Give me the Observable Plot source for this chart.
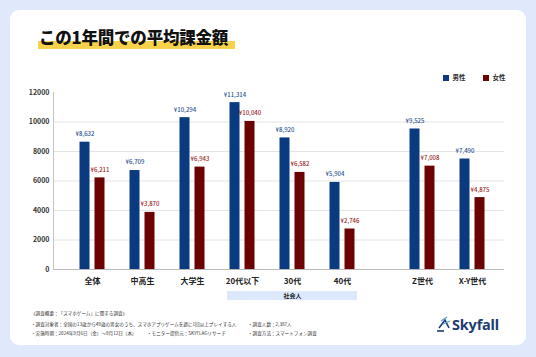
<!DOCTYPE html>
<html><head><meta charset="utf-8">
<script src="https://cdn.jsdelivr.net/npm/d3@7"></script>
<script src="https://cdn.jsdelivr.net/npm/@observablehq/plot@0.6"></script>
<style>
body{margin:0;width:536px;height:357px;background:#dfe9fb;position:relative;overflow:hidden;font-family:"Noto Sans CJK JP","Noto Sans",sans-serif;}
#card{position:absolute;left:10px;top:10px;width:516px;height:335px;background:#fff;border-radius:9px;}
#hl{position:absolute;left:38px;top:41px;width:197px;height:8px;background:#f8d24a;}
#title{position:absolute;left:39px;top:29px;font-size:16.5px;line-height:16.5px;font-weight:900;color:#111;white-space:nowrap;letter-spacing:-0.2px;}
.leg{position:absolute;top:74px;font-size:6.5px;line-height:7px;font-weight:700;color:#333;white-space:nowrap;}
.sw{display:inline-block;width:5.5px;height:5.5px;vertical-align:-0.5px;margin-right:4px;}
.chart{position:absolute;top:72px;}
.foot{position:absolute;font-size:4.6px;line-height:5px;color:#333;white-space:nowrap;}
#logo{position:absolute;left:436px;top:315px;height:18px;white-space:nowrap;}
#logo span{position:absolute;left:16px;top:-1px;font-family:"Noto Sans","Open Sans",sans-serif;font-weight:700;font-size:14.5px;line-height:20px;color:#1b3c72;letter-spacing:-0.2px;}
</style></head>
<body>
<div id="card"></div>
<div id="hl"></div>
<div id="title">この1年間での平均課金額</div>
<div class="leg" id="leg1" style="left:443px"></div>
<div class="leg" id="leg2" style="left:483px"></div>
<div class="chart" id="c1" style="left:0px"></div>
<div class="chart" id="c2" style="left:380px"></div>
<div class="foot" style="left:31px;top:311px">《調査概要：「スマホゲーム」に関する調査》</div>
<div class="foot" style="left:31px;top:322px">・調査対象者：全国の13歳から49歳の男女のうち、スマホアプリゲームを週に1回以上プレイする人</div>
<div class="foot" style="left:248px;top:322px">・調査人数：2,387人</div>
<div class="foot" style="left:31px;top:331px">・実施時期：2024年9月6日（金）〜9月12日（木）</div>
<div class="foot" style="left:147px;top:331px">・モニター提供元：SKYFLAGリサーチ</div>
<div class="foot" style="left:248px;top:331px">・調査方法：スマートフォン調査</div>
<div id="logo">
<svg width="16" height="18" viewBox="0 0 16 18" style="position:absolute;left:0;top:0">
<path d="M1 16 H8" stroke="#1b3c72" stroke-width="1.6" fill="none"/>
<path d="M3 13 L9 5 L13 13" stroke="#1b3c72" stroke-width="1.6" fill="none"/>
<path d="M5 6 L11 2" stroke="#5aa0dc" stroke-width="1.4" fill="none"/>
<path d="M7 9 L14 6" stroke="#5aa0dc" stroke-width="1.2" fill="none"/>
</svg>
<span>Skyfall</span>
</div>
<script>
// ---- data ----
const groupsA = ["全体", "中高生", "大学生", "20代以下", "30代", "40代"];
const groupsB = ["Z世代", "X-Y世代"];
const male = [8632, 6709, 10294, 11314, 8920, 5904, 9525, 7490];
const female = [6211, 3870, 6943, 10040, 6582, 2746, 7008, 4875];
const seriesNames = ["男性", "女性"];
const yTicks = [0, 2000, 4000, 6000, 8000, 10000, 12000];
const socialGroups = ["20代以下", "30代", "40代"];
const socialLabel = "社会人";

// ---- styling ----
const maleColor = "#0a3a80", femaleColor = "#6c0303";
const maleText = "#2b5590", femaleText = "#9a2626";
const bandFill = "#dce8fb";
const font = '"Noto Sans CJK JP","Noto Sans",sans-serif';

document.getElementById("leg1").innerHTML = `<span class="sw" style="background:${maleColor}"></span>${seriesNames[0]}`;
document.getElementById("leg2").innerHTML = `<span class="sw" style="background:${femaleColor}"></span>${seriesNames[1]}`;

const categories = [...groupsA, ...groupsB];
const rows = categories.flatMap((g, i) => [
  {group: g, sex: seriesNames[0], value: male[i]},
  {group: g, sex: seriesNames[1], value: female[i]}
]);
const fmt = d3.format(",");
const yen = d => "¥" + fmt(d.value);

function chart(groups, opts) {
  const data = rows.filter(d => groups.includes(d.group));
  const m = data.filter(d => d.sex === seriesNames[0]);
  const f = data.filter(d => d.sex === seriesNames[1]);
  const marks = [
    Plot.gridY(yTicks.filter(t => t > 0 && t < 12000), {stroke: "#e4e4e4", strokeOpacity: 1}),
    Plot.ruleY([0], {stroke: "#b8b8b8"}),
    Plot.barY(m, {x: "group", y: "value", fill: maleColor, insetLeft: 12.5, insetRight: 27.5}),
    Plot.barY(f, {x: "group", y: "value", fill: femaleColor, insetLeft: 27.5, insetRight: 12.5}),
    Plot.text(m, {x: "group", y: "value", text: yen, dx: -7.5, dy: -8, fill: maleText, fontSize: 6, fontWeight: 500}),
    Plot.text(f, {x: "group", y: "value", text: yen, dx: 7.5, dy: -8, fill: femaleText, fontSize: 6, fontWeight: 500}),
    Plot.axisX({tickSize: 0, tickPadding: 9, fontSize: 8, fontWeight: 700, fill: "#222", label: null})
  ];
  if (opts.showY) {
    marks.push(Plot.axisY({ticks: yTicks, tickSize: 0, tickPadding: 4, tickFormat: d => String(d), fontSize: 7, fontWeight: 700, fill: "#333", label: null}));
    marks.push(Plot.frame({anchor: "left", stroke: "#c4c4c4"}));
  }
  if (opts.social) {
    const sg = socialGroups;
    marks.push(Plot.barY(sg.slice(0, 1), {x: d => d, y1: -1500, y2: -2110, fill: bandFill, insetLeft: 10}));
    marks.push(Plot.barY(sg.slice(1, -1), {x: d => d, y1: -1500, y2: -2110, fill: bandFill}));
    marks.push(Plot.barY(sg.slice(-1), {x: d => d, y1: -1500, y2: -2110, fill: bandFill, insetRight: 10}));
    marks.push(Plot.text([socialLabel], {x: () => sg[1], y: -1805, text: d => d, fontSize: 6, fontWeight: 700, fill: "#222"}));
  }
  return Plot.plot({
    width: opts.width, height: 240,
    marginTop: 20, marginBottom: 43, marginLeft: opts.marginLeft, marginRight: opts.marginRight,
    style: {fontFamily: font, overflow: "visible", background: "transparent"},
    x: {domain: groups, paddingInner: 0, paddingOuter: opts.paddingOuter, align: opts.align, label: null},
    y: {domain: [0, 12000], axis: opts.showY ? undefined : null, label: null},
    marks
  });
}

document.getElementById("c1").append(chart(groupsA, {width: 380, marginLeft: 53, marginRight: 0, paddingOuter: 0.27, align: 0.5, showY: true, social: true}));
document.getElementById("c2").append(chart(groupsB, {width: 156, marginLeft: 0, marginRight: 32, paddingOuter: 0.24, align: 0.708, showY: false, social: false}));
</script>
</body></html>
